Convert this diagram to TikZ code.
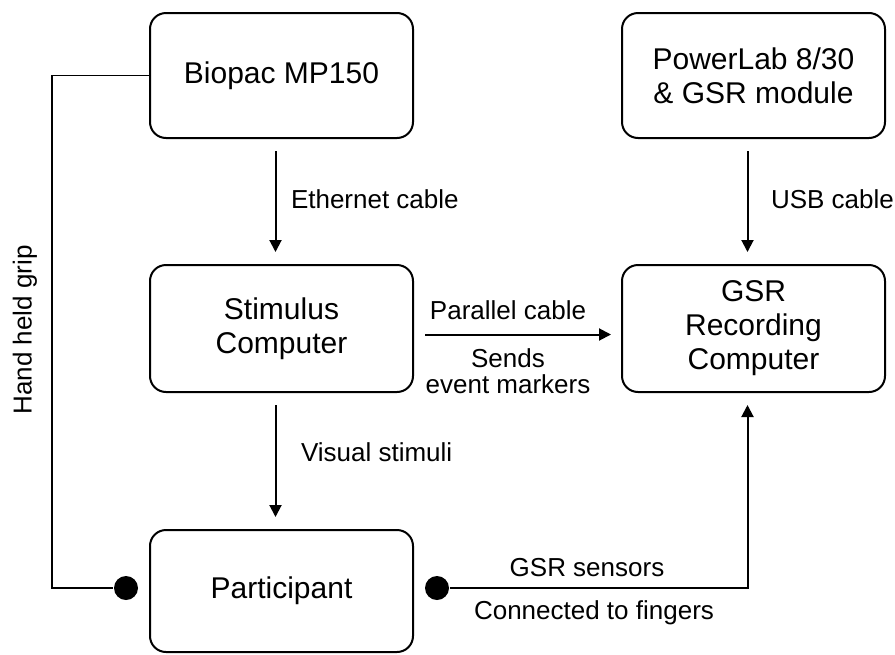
\documentclass[tikz,border=0pt]{standalone}
\usepackage{fontspec}
\setmainfont{Liberation Sans}
\usetikzlibrary{arrows.meta}
\begin{document}
\begin{tikzpicture}[x=1pt, y=-1pt, line width=2pt,
  box/.style={draw, rounded corners=16pt, minimum width=263pt, inner sep=0pt, align=center, font=\fontsize{30}{34}\selectfont},
  lbl/.style={inner sep=0pt, font=\fontsize{26}{30}\selectfont},
  dot/.style={circle, fill, minimum size=24pt, inner sep=0pt},
  arr/.style={-{Triangle[length=12pt,width=12pt]}}]
\useasboundingbox (0,0) rectangle (895,654);
\node[box, minimum height=125pt] (biopac) at (281.5,75.5){Biopac MP150};
\node[box, minimum height=125pt] (powerlab) at (753.5,75.5){PowerLab 8/30\\\& GSR module};
\node[box, minimum height=127pt] (stim) at (281.5,328.5){Stimulus\\Computer};
\node[box, minimum height=127pt] (gsr) at (753.5,328.5){GSR\\Recording\\Computer};
\node[box, minimum height=122pt] (part) at (281.5,591){Participant};
\node[dot] (dotL) at (126,588){};
\node[dot] (dotR) at (437,588){};
\coordinate (gripc) at (52,588);
\draw[arr, shorten <=12pt, shorten >=12pt]([xshift=-6pt]biopac.south) -- ([xshift=-6pt]stim.north);
\draw[arr, shorten <=12pt, shorten >=12pt]([xshift=-6pt]powerlab.south) -- ([xshift=-6pt]gsr.north);
\draw[arr, shorten <=12pt, shorten >=12pt]([xshift=-6pt]stim.south) -- ([xshift=-6pt]part.north);
\draw[arr, shorten <=11pt, shorten >=10pt]([yshift=-6pt]stim.east) -- ([yshift=-6pt]gsr.west);
\draw[line width=1.5pt](biopac.west) -| (gripc) -- (dotL);
\draw[arr, shorten >=12pt](dotR) -| ([xshift=-6pt]gsr.south);
\node[lbl, anchor=west] (ethl) at (290,199){Ethernet cable};
\node[lbl, anchor=west] (usbl) at (770,199){USB cable};
\node[lbl, anchor=west] (visl) at (300,452){Visual stimuli};
\node[lbl] (parl) at (508,310){Parallel cable};
\node[lbl, align=center, font=\fontsize{26}{26}\selectfont] (sendl) at (508,371){Sends\\event markers};
\node[lbl] (sensl) at (587,568){GSR sensors};
\node[lbl] (fingl) at (594,613){Connected to fingers};
\node[lbl, rotate=90] (gripl) at (25,330){Hand held grip};
\end{tikzpicture}
\end{document}
